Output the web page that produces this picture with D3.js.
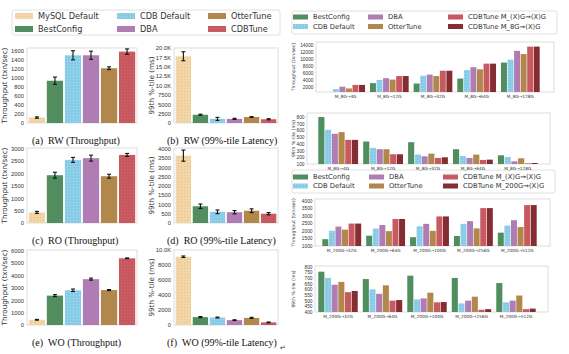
<!DOCTYPE html>
<html>
<head>
<meta charset="utf-8">
<script src="https://cdn.jsdelivr.net/npm/d3@7"></script>
<style>
  body { margin: 0; background: #fff; }
  text { font-family: "DejaVu Sans", sans-serif; fill: #333; }
  .tick text { font-family: "Liberation Sans", "DejaVu Sans", sans-serif; }
  .xlab .tick text { font-family: "DejaVu Sans", sans-serif; }
  .cap { font-family: "Liberation Serif", "DejaVu Serif", serif; fill: #111; }
</style>
</head>
<body>
<svg id="chart" width="569" height="354"></svg>
<script>
// ---- data ----
const systems = ["MySQL Default", "BestConfig", "CDB Default", "DBA", "OtterTune", "CDBTune"];

const rwThroughput = [120, 930, 1490, 1490, 1205, 1570];
const rwThroughputErr = [15, 80, 100, 90, 30, 60];
const rwLatency = [17800, 2200, 1100, 1100, 1600, 1000];
const rwLatencyErr = [1200, 150, 400, 150, 100, 150];
const roThroughput = [430, 1930, 2550, 2620, 1890, 2750];
const roThroughputErr = [40, 120, 100, 120, 80, 60];
const roLatency = [3620, 900, 600, 580, 660, 500];
const roLatencyErr = [300, 120, 100, 90, 100, 60];
const woThroughput = [420, 2370, 2800, 3700, 2820, 5380];
const woThroughputErr = [30, 80, 100, 80, 40, 30];
const woLatency = [9100, 1050, 1000, 650, 950, 350];
const woLatencyErr = [100, 80, 60, 50, 70, 50];

const series8G = ["BestConfig", "CDB Default", "DBA", "OtterTune", "CDBTune M_(X)G\u2192(X)G", "CDBTune M_8G\u2192(X)G"];
const series200G = ["BestConfig", "CDB Default", "DBA", "OtterTune", "CDBTune M_(X)G\u2192(X)G", "CDBTune M_200G\u2192(X)G"];

const groups8G = ["M_8G\u21924G", "M_8G\u219212G", "M_8G\u219232G", "M_8G\u219264G", "M_8G\u2192128G"];
const groups200G = ["M_200G\u219232G", "M_200G\u219264G", "M_200G\u2192100G", "M_200G\u2192256G", "M_200G\u2192512G"];

const tput8G = [
  [500, 1500, 2200, 1700, 2700, 2700],
  [3200, 4100, 4600, 4200, 5200, 5200],
  [3100, 5300, 5600, 5200, 6700, 6700],
  [4500, 6900, 7700, 7100, 8700, 8700],
  [9000, 9800, 12300, 11400, 13500, 13500]
];
const lat8G = [
  [800, 610, 550, 575, 460, 460],
  [435, 340, 320, 320, 245, 245],
  [425, 240, 215, 255, 190, 200],
  [320, 220, 190, 240, 160, 165],
  [230, 205, 140, 185, 110, 115]
];
const tput200G = [
  [1450, 2000, 2280, 2080, 2480, 2480],
  [1680, 2150, 2380, 1980, 2780, 2780],
  [1580, 2300, 2460, 2000, 2950, 2950],
  [1660, 2460, 2640, 2160, 3500, 3500],
  [1880, 2350, 2700, 2250, 3700, 3700]
];
const lat200G = [
  [755, 700, 640, 665, 575, 585],
  [690, 600, 560, 635, 500, 505],
  [720, 510, 520, 570, 485, 488],
  [700, 475, 500, 535, 420, 425],
  [655, 485, 500, 545, 425, 430]
];

// ---- styles ----
const colorOf = {
  "MySQL Default": "#f4d6a6",
  "BestConfig": "#4f8b5c",
  "CDB Default": "#89cbe7",
  "DBA": "#b07cb4",
  "OtterTune": "#b2874b",
  "CDBTune": "#c6585f",
  "CDBTune M_(X)G\u2192(X)G": "#c6585f",
  "CDBTune M_8G\u2192(X)G": "#8a2f34",
  "CDBTune M_200G\u2192(X)G": "#8a2f34"
};
const hatchOf = {
  "MySQL Default": "dots",
  "BestConfig": "diag",
  "CDB Default": "dots",
  "CDBTune": "dots",
  "CDBTune M_(X)G\u2192(X)G": "dots",
  "CDBTune M_8G\u2192(X)G": "grid",
  "CDBTune M_200G\u2192(X)G": "grid"
};

const svg = d3.select("#chart");
const defs = svg.append("defs");

// hatch patterns, one per coloured series
Object.keys(colorOf).forEach((name, i) => {
  const h = hatchOf[name];
  if (!h) return;
  const c = d3.color(colorOf[name]);
  const p = defs.append("pattern")
    .attr("id", "pat" + i)
    .attr("patternUnits", "userSpaceOnUse")
    .attr("width", 3).attr("height", 3);
  p.append("rect").attr("width", 3).attr("height", 3).attr("fill", colorOf[name]);
  const mark = (name == "MySQL Default") ? c.darker(0.5) : c.brighter(0.5);
  if (h == "dots") {
    p.append("rect").attr("x", 1).attr("y", 1).attr("width", 1).attr("height", 1)
      .attr("fill", mark).attr("opacity", 0.55);
  } else if (h == "diag") {
    p.append("path").attr("d", "M0,3 L3,0").attr("stroke", mark)
      .attr("stroke-width", 0.7).attr("opacity", 0.5);
  } else {
    p.append("path").attr("d", "M0,1.5 H3 M1.5,0 V3").attr("stroke", c.darker(0.6))
      .attr("stroke-width", 0.6).attr("opacity", 0.6);
  }
});
const keys = Object.keys(colorOf);
function fillOf(name) {
  return hatchOf[name] ? `url(#pat${keys.indexOf(name)})` : colorOf[name];
}

// ---- left: single bars with error bars ----
const kFormat = v => v >= 10000 ? (v / 1000).toFixed(1) + "K" : String(v);

const panels = [
  { vals: rwThroughput, err: rwThroughputErr, x: [27, 137], y: [48, 123], max: 1650,
    ticks: d3.range(0, 1601, 200), fmt: String, label: "Throughput (txn/sec)", cap: "(a)\u2002RW (Throughput)" },
  { vals: rwLatency, err: rwLatencyErr, x: [174, 278], y: [48, 123], max: 20000,
    ticks: d3.range(0, 20001, 2500), fmt: kFormat, label: "99th %-tile (ms)", cap: "(b)\u2002RW (99%-tile Latency)" },
  { vals: roThroughput, err: roThroughputErr, x: [27, 137], y: [148, 223], max: 3030,
    ticks: d3.range(0, 3001, 500), fmt: String, label: "Throughput (txn/sec)", cap: "(c)\u2002RO (Throughput)" },
  { vals: roLatency, err: roLatencyErr, x: [174, 278], y: [148, 223], max: 4030,
    ticks: d3.range(0, 4001, 500), fmt: String, label: "99th %-tile (ms)", cap: "(d)\u2002RO (99%-tile Latency)" },
  { vals: woThroughput, err: woThroughputErr, x: [27, 137], y: [250, 325], max: 6050,
    ticks: d3.range(0, 6001, 1000), fmt: String, label: "Throughput (txn/sec)", cap: "(e)\u2002WO (Throughput)" },
  { vals: woLatency, err: woLatencyErr, x: [174, 278], y: [250, 325], max: 10000,
    ticks: d3.range(0, 10001, 2000), fmt: kFormat, label: "99th %-tile (ms)", cap: "(f)\u2002WO (99%-tile Latency)" }
];

panels.forEach((p, k) => {
  const g = svg.append("g");
  const xs = d3.scaleBand().domain(systems).range(p.x).paddingInner(0.1).paddingOuter(0.1);
  const ys = d3.scaleLinear().domain([0, p.max]).range([p.y[1], p.y[0]]);

  g.append("rect")
    .attr("x", p.x[0]).attr("y", p.y[0])
    .attr("width", p.x[1] - p.x[0]).attr("height", p.y[1] - p.y[0])
    .attr("fill", "none").attr("stroke", "#d4d4d4").attr("stroke-width", 0.8);

  const yAxis = d3.axisLeft(ys).tickValues(p.ticks).tickFormat(p.fmt).tickSize(0).tickPadding(3);
  g.append("g").attr("transform", `translate(${p.x[0]},0)`).call(yAxis)
    .call(a => a.select(".domain").remove())
    .selectAll("text").style("font-size", "5.8px").attr("fill", "#444");

  g.selectAll(".bar").data(systems).enter().append("rect")
    .attr("x", d => xs(d))
    .attr("y", (d, i) => ys(p.vals[i]))
    .attr("width", xs.bandwidth())
    .attr("height", (d, i) => ys(0) - ys(p.vals[i]))
    .attr("fill", d => fillOf(d));

  // error bars
  const eb = g.selectAll(".err").data(systems).enter().append("g")
    .attr("stroke", "#111").attr("stroke-width", 1.1);
  eb.append("line")
    .attr("x1", d => xs(d) + xs.bandwidth() / 2).attr("x2", d => xs(d) + xs.bandwidth() / 2)
    .attr("y1", (d, i) => ys(p.vals[i] - p.err[i])).attr("y2", (d, i) => ys(p.vals[i] + p.err[i]));
  [-1, 1].forEach(s => {
    eb.append("line")
      .attr("x1", d => xs(d) + xs.bandwidth() / 2 - 2).attr("x2", d => xs(d) + xs.bandwidth() / 2 + 2)
      .attr("y1", (d, i) => ys(p.vals[i] + s * p.err[i])).attr("y2", (d, i) => ys(p.vals[i] + s * p.err[i]));
  });

  g.append("text")
    .attr("transform", `translate(${p.x[0] - 20},${(p.y[0] + p.y[1]) / 2}) rotate(-90)`)
    .attr("text-anchor", "middle").style("font-size", "7.2px").attr("fill", "#333")
    .text(p.label);

  g.append("text").attr("class", "cap")
    .attr("x", k % 2 == 0 ? 32 : 167).attr("y", p.y[1] + 21)
    .style("font-size", "10px")
    .text(p.cap);
});

// return mark after the last caption
svg.append("text").attr("x", 280).attr("y", 350).style("font-size", "7px").attr("fill", "#333").text("\u21b5");

// ---- legends ----
function legend(names, box, cols, rows, sw, font) {
  const g = svg.append("g");
  g.append("rect")
    .attr("x", box[0]).attr("y", box[1]).attr("width", box[2]).attr("height", box[3])
    .attr("rx", 2).attr("fill", "#fff").attr("stroke", "#d8d8d8").attr("stroke-width", 0.8);
  names.forEach((n, i) => {
    const cx = cols[Math.floor(i / rows.length)];
    const cy = rows[i % rows.length];
    g.append("rect").attr("x", cx).attr("y", cy - sw[1] / 2)
      .attr("width", sw[0]).attr("height", sw[1]).attr("fill", fillOf(n));
    g.append("text").attr("x", cx + sw[0] + 5).attr("y", cy)
      .attr("dy", "0.35em").style("font-size", font + "px").attr("fill", "#333").text(n);
  });
}

legend(systems, [12, 10, 268, 25], [15, 117, 208], [16, 29], [18, 6], 8.2);
legend(series8G, [292, 11, 265, 23], [293, 368, 448], [17, 26.5], [15, 5], 6.8);
legend(series200G, [292, 170, 263, 23], [293, 369, 443], [177, 186], [15, 5], 6.8);

// ---- right: grouped bars ----
const grouped = [
  { data: tput8G, names: series8G, groups: groups8G, frame: [316, 554, 42, 92], bars: [326, 540],
    dom: [700, 14800], ticks: d3.range(2000, 14001, 2000), label: "Throughput (txn/sec)" },
  { data: lat8G, names: series8G, groups: groups8G, frame: [307, 550, 113, 164], bars: [318, 538],
    dom: [100, 860], ticks: d3.range(100, 801, 100), label: "99th %-tile (ms)" },
  { data: tput200G, names: series200G, groups: groups200G, frame: [315, 550, 199, 246], bars: [322, 537],
    dom: [1000, 4100], ticks: d3.range(1000, 4001, 500), label: "Throughput (txn/sec)" },
  { data: lat200G, names: series200G, groups: groups200G, frame: [315, 548, 266, 312], bars: [318, 536],
    dom: [400, 805], ticks: d3.range(400, 801, 50), label: "99th %-tile (ms)" }
];

grouped.forEach(c => {
  const [fx0, fx1, fy0, fy1] = c.frame;
  const g = svg.append("g");
  const x0 = d3.scaleBand().domain(c.groups).range(c.bars).paddingInner(0.1);
  const x1 = d3.scaleBand().domain(c.names).range([0, x0.bandwidth()]);
  const ys = d3.scaleLinear().domain(c.dom).range([fy1, fy0]);

  g.append("rect")
    .attr("x", fx0).attr("y", fy0).attr("width", fx1 - fx0).attr("height", fy1 - fy0)
    .attr("fill", "none").attr("stroke", "#d4d4d4").attr("stroke-width", 0.8);

  g.append("g").attr("transform", `translate(${fx0},0)`)
    .call(d3.axisLeft(ys).tickValues(c.ticks).tickFormat(d3.format("d")).tickSize(0).tickPadding(2.5))
    .call(a => a.select(".domain").remove())
    .selectAll("text").style("font-size", "4.8px").attr("fill", "#444");

  g.append("g").attr("class", "xlab").attr("transform", `translate(0,${fy1})`)
    .call(d3.axisBottom(x0).tickSize(0).tickPadding(3))
    .call(a => a.select(".domain").remove())
    .selectAll("text").style("font-size", "4.3px").attr("fill", "#444");

  const grp = g.selectAll(".grp").data(c.data).enter().append("g")
    .attr("transform", (d, i) => `translate(${x0(c.groups[i])},0)`);
  grp.selectAll("rect").data(d => d).enter().append("rect")
    .attr("x", (v, j) => x1(c.names[j]) + 0.3)
    .attr("y", v => ys(v))
    .attr("width", x1.bandwidth() - 0.6)
    .attr("height", v => fy1 - ys(v))
    .attr("fill", (v, j) => fillOf(c.names[j]));

  g.append("text")
    .attr("transform", `translate(${295},${(fy0 + fy1) / 2}) rotate(-90)`)
    .attr("text-anchor", "middle").style("font-size", "4.6px").attr("fill", "#333")
    .text(c.label);
});
</script>
</body>
</html>
